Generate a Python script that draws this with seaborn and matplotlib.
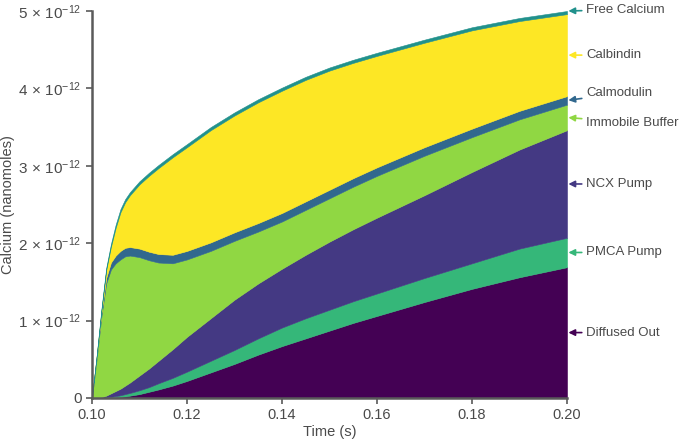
import numpy as np
import matplotlib
matplotlib.use("Agg")
import matplotlib.pyplot as plt
import seaborn as sns
from matplotlib.ticker import FuncFormatter

sns.set_theme(style="white")
plt.rcParams['font.family'] = ['Liberation Sans', 'DejaVu Sans']
plt.rcParams['mathtext.fontset'] = 'custom'
plt.rcParams['mathtext.rm'] = 'Liberation Sans'
plt.rcParams['mathtext.it'] = 'Liberation Sans:italic'

# time points (s)
time = [0.100, 0.101, 0.102, 0.103, 0.104, 0.105, 0.106, 0.107, 0.108, 0.110,
        0.112, 0.114, 0.117, 0.120, 0.125, 0.130, 0.135, 0.140, 0.145, 0.150,
        0.155, 0.160, 0.170, 0.180, 0.190, 0.200]

# calcium in each pool, units of 1e-12 nanomoles (bottom -> top of stack)
diffused_out = [0, 0, 0, 0.002, 0.005, 0.01, 0.015, 0.02, 0.03, 0.05,
                0.08, 0.11, 0.16, 0.22, 0.33, 0.44, 0.56, 0.67, 0.77, 0.87,
                0.97, 1.06, 1.24, 1.41, 1.56, 1.69]
pmca_pump = [0, 0, 0.003, 0.006, 0.01, 0.015, 0.02, 0.03, 0.035, 0.05,
             0.06, 0.08, 0.10, 0.12, 0.15, 0.18, 0.21, 0.24, 0.26, 0.27,
             0.28, 0.29, 0.31, 0.33, 0.37, 0.38]
ncx_pump = [0, 0.002, 0.007, 0.022, 0.045, 0.065, 0.085, 0.11, 0.135, 0.19,
            0.24, 0.29, 0.37, 0.45, 0.55, 0.65, 0.71, 0.76, 0.82, 0.88,
            0.93, 0.98, 1.07, 1.18, 1.28, 1.39]
immobile_buffer = [0, 0.508, 1.05, 1.45, 1.60, 1.65, 1.67, 1.67, 1.64, 1.53,
                   1.40, 1.27, 1.11, 1.00, 0.87, 0.76, 0.67, 0.61, 0.58, 0.56,
                   0.55, 0.54, 0.51, 0.45, 0.39, 0.33]
calmodulin = [0, 0.02, 0.04, 0.07, 0.09, 0.10, 0.11, 0.11, 0.11, 0.11,
              0.11, 0.11, 0.11, 0.11, 0.11, 0.11, 0.11, 0.11, 0.11, 0.11,
              0.11, 0.11, 0.11, 0.11, 0.11, 0.11]
calbindin = [0, 0.01, 0.03, 0.10, 0.205, 0.36, 0.50, 0.59, 0.67, 0.83,
             0.98, 1.11, 1.26, 1.34, 1.45, 1.51, 1.56, 1.58, 1.57, 1.54,
             1.49, 1.44, 1.35, 1.27, 1.16, 1.06]
free_calcium = [0, 0.01, 0.02, 0.03, 0.035, 0.04, 0.04, 0.04, 0.04, 0.04,
                0.04, 0.04, 0.04, 0.04, 0.04, 0.04, 0.04, 0.04, 0.04, 0.04,
                0.04, 0.04, 0.04, 0.04, 0.04, 0.04]

labels = ["Diffused Out", "PMCA Pump", "NCX Pump", "Immobile Buffer",
          "Calmodulin", "Calbindin", "Free Calcium"]
colors = ["#440154", "#35b779", "#443983", "#90d743",
          "#31688e", "#fde725", "#21918c"]

series = np.array([diffused_out, pmca_pump, ncx_pump, immobile_buffer,
                   calmodulin, calbindin, free_calcium]) * 1e-12

fig = plt.figure(figsize=(6.81, 4.40), dpi=100)
ax = fig.add_axes([0.135, 0.0955, 0.6976, 0.8795])
ax.stackplot(time, series, colors=colors, linewidth=0.4, edgecolor='face')

ax.set_xlim(0.10, 0.20)
ax.set_ylim(0, 5e-12)
ax.set_xticks([0.10, 0.12, 0.14, 0.16, 0.18, 0.20])
ax.xaxis.set_major_formatter(FuncFormatter(lambda v, p: f"{v:.2f}"))
ax.set_yticks([0, 1e-12, 2e-12, 3e-12, 4e-12, 5e-12])


def sci(v, p):
    if v == 0:
        return "0"
    return r"$%d\,\times\,10^{-12}$" % round(v * 1e12)


ax.yaxis.set_major_formatter(FuncFormatter(sci))

text_col = "#4a4a4a"
for side in ["top", "right"]:
    ax.spines[side].set_visible(False)
for side in ["left", "bottom"]:
    ax.spines[side].set_color("#5a5a5a")
    ax.spines[side].set_linewidth(1.8)
ax.tick_params(axis="both", which="major", length=4, width=1.2, color="#5a5a5a",
               labelcolor=text_col, labelsize=10.5, direction="out",
               left=True, bottom=True)
ax.tick_params(axis="y", labelsize=11)
ax.set_xlabel("Time (s)", color=text_col, fontsize=10.5, labelpad=2)
ax.set_ylabel("Calcium (nanomoles)", color=text_col, fontsize=10.5, labelpad=2)

# labels on the right edge, arrow pointing at each band
cum = np.cumsum(series[:, -1])
mids = cum - series[:, -1] / 2
mids[-1] = cum[-1]
dy = {"Calmodulin": 5, "Immobile Buffer": -4, "Free Calcium": 1}
for lab, col, yv in zip(labels, colors, mids):
    ax.annotate(lab, xy=(0.20, yv), xycoords="data",
                xytext=(14, dy.get(lab, 0)), textcoords="offset points",
                va="center", ha="left", fontsize=9.5, color=text_col,
                arrowprops=dict(arrowstyle="-|>,head_length=0.4,head_width=0.2",
                                color=col, lw=1.2, shrinkA=1, shrinkB=1),
                annotation_clip=False)

fig.savefig("out.png", dpi=100)
